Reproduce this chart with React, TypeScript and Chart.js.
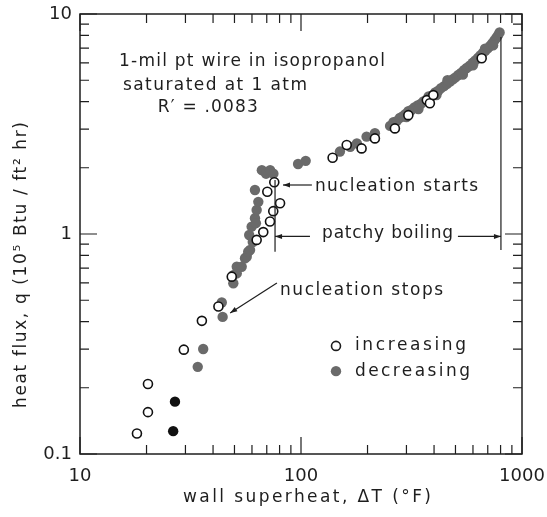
import React, { useEffect, useRef } from 'react';
import { Chart, registerables } from 'chart.js';

Chart.register(...registerables);

// ---- data (wall superheat dT in °F, heat flux q in 1e5 Btu/ft2 hr) ----
const increasingDT = [18.1, 20.3, 20.3, 29.5, 35.6, 42.3, 48.6, 63.0, 67.5, 72.4, 74.9, 80.4, 70.4, 75.7, 139, 161, 188, 216, 266, 306, 371, 383, 397, 657];
const increasingQ = [0.124, 0.155, 0.208, 0.298, 0.403, 0.468, 0.64, 0.94, 1.02, 1.14, 1.27, 1.38, 1.556, 1.72, 2.22, 2.54, 2.45, 2.72, 3.02, 3.47, 4.06, 3.93, 4.28, 6.29];

const decreasingDT = [
  34.1, 36.1, 43.8, 44.2, 49.4, 49.4, 51.2, 51.2, 53.9, 55.8, 56.8, 57.7, 58.8, 58.3, 59.8, 61.9, 63.0, 64.1, 61.9,
  66.5, 69.5, 72.5, 75.0, 97, 105, 150, 167, 179, 198, 216,
  253, 262, 271, 280, 288, 296, 306, 316, 326, 337, 348, 358, 370, 378, 392, 405, 418, 430, 444, 458, 472, 487,
  500, 515, 530, 546, 562, 580, 598, 615, 632, 648, 665, 683, 700, 716, 733, 750, 766, 780, 792,
  300, 340, 410, 460, 540, 600, 680, 740, 60.5, 62.5,
];
const decreasingQ = [
  0.249, 0.30, 0.488, 0.42, 0.597, 0.65, 0.662, 0.71, 0.71, 0.776, 0.788, 0.831, 0.846, 0.99, 1.08, 1.18, 1.285, 1.40, 1.585,
  1.95, 1.88, 1.95, 1.88, 2.08, 2.15, 2.37, 2.49, 2.58, 2.77, 2.87,
  3.10, 3.22, 3.26, 3.37, 3.42, 3.50, 3.62, 3.66, 3.76, 3.84, 3.90, 4.00, 4.08, 4.22, 4.25, 4.40, 4.48, 4.60, 4.70, 4.82, 4.93, 5.05,
  5.15, 5.28, 5.40, 5.55, 5.68, 5.82, 6.00, 6.15, 6.32, 6.48, 6.65, 6.82, 6.98, 7.15, 7.35, 7.58, 7.80, 8.02, 8.25,
  3.40, 3.70, 4.28, 5.00, 5.30, 5.85, 6.95, 7.20, 0.92, 1.12,
];

const darkDT = [26.4, 26.9];
const darkQ = [0.127, 0.173];

const xTickLabels = [10, 100, 1000];
const yTickLabels = [0.1, 1, 10];

const FONT = "'DejaVu Sans', sans-serif";
const INK = '#1e1e1e';
const GREY = '#6a6a6a';

const isLabel = (v: number, list: number[]) => list.find((t) => Math.abs(Math.log10(v) - Math.log10(t)) < 1e-6);

function spacedText(ctx: CanvasRenderingContext2D, text: string, x: number, y: number, size: number, width: number, align: 'left' | 'center' = 'left') {
  ctx.font = `${size}px ${FONT}`;
  (ctx as any).letterSpacing = '0px';
  const w0 = ctx.measureText(text).width;
  const n = Array.from(text).length;
  const ls = n > 1 ? (width - w0) / (n - 1) : 0;
  (ctx as any).letterSpacing = ls + 'px';
  ctx.textAlign = 'left';
  ctx.textBaseline = 'middle';
  ctx.fillText(text, align === 'center' ? x - width / 2 : x, y);
  (ctx as any).letterSpacing = '0px';
}

function arrow(ctx: CanvasRenderingContext2D, x1: number, y1: number, x2: number, y2: number, head = 7, half = 2.5) {
  ctx.beginPath();
  ctx.moveTo(x1, y1);
  ctx.lineTo(x2, y2);
  ctx.stroke();
  const a = Math.atan2(y2 - y1, x2 - x1);
  ctx.beginPath();
  ctx.moveTo(x2, y2);
  ctx.lineTo(x2 - head * Math.cos(a) + half * Math.sin(a), y2 - head * Math.sin(a) - half * Math.cos(a));
  ctx.lineTo(x2 - head * Math.cos(a) - half * Math.sin(a), y2 - head * Math.sin(a) + half * Math.cos(a));
  ctx.closePath();
  ctx.fill();
}

const decorPlugin = {
  id: 'decor',
  afterDraw(chart: any) {
    const ctx: CanvasRenderingContext2D = chart.ctx;
    const xs = chart.scales.x;
    const ys = chart.scales.y;
    const X = (v: number) => xs.getPixelForValue(v);
    const Y = (v: number) => ys.getPixelForValue(v);
    const { left, right, top, bottom } = chart.chartArea;
    ctx.save();
    ctx.strokeStyle = INK;
    ctx.fillStyle = INK;

    // frame
    ctx.lineWidth = 1.5;
    ctx.strokeRect(left, top, right - left, bottom - top);

    // inward ticks on all four sides
    ctx.lineWidth = 1.2;
    const tickVals = (min: number, max: number) => {
      const out: { v: number; major: boolean }[] = [];
      for (let d = min; d < max * 0.999; d *= 10) {
        for (let m = 1; m <= 9; m++) out.push({ v: m * d, major: m === 1 });
      }
      out.push({ v: max, major: true });
      return out;
    };
    ctx.beginPath();
    for (const t of tickVals(xs.min, xs.max)) {
      const p = X(t.v);
      const len = t.major ? 17 : 9;
      ctx.moveTo(p, bottom); ctx.lineTo(p, bottom - len);
      ctx.moveTo(p, top); ctx.lineTo(p, top + len);
    }
    for (const t of tickVals(ys.min, ys.max)) {
      const p = Y(t.v);
      const len = t.major ? 17 : 9;
      ctx.moveTo(left, p); ctx.lineTo(left + len, p);
      ctx.moveTo(right, p); ctx.lineTo(right - len, p);
    }
    ctx.stroke();

    // annotation text block
    spacedText(ctx, '1-mil pt wire in isopropanol', X(15.0), Y(6.05), 17, 266);
    spacedText(ctx, 'saturated at 1 atm', X(15.65), Y(4.75), 17, 184);
    spacedText(ctx, "R′ = .0083", X(22.5), Y(3.74), 17, 100);

    // nucleation starts
    ctx.lineWidth = 1.2;
    spacedText(ctx, 'nucleation starts', X(115.7), Y(1.65), 17, 163);
    arrow(ctx, X(112), Y(1.67), X(82.9), Y(1.67));

    // patchy boiling
    spacedText(ctx, 'patchy boiling', X(124.5), Y(1.0), 17, 131);
    ctx.beginPath();
    ctx.moveTo(X(76.3), Y(1.76)); ctx.lineTo(X(76.3), Y(0.83));
    ctx.moveTo(X(803), Y(7.86)); ctx.lineTo(X(803), Y(0.846));
    ctx.stroke();
    arrow(ctx, X(109.8), Y(0.975), X(76.3), Y(0.975));
    arrow(ctx, X(513), Y(0.975), X(803), Y(0.975));

    // nucleation stops
    spacedText(ctx, 'nucleation stops', X(80.4), Y(0.556), 17, 163);
    arrow(ctx, X(77.8), Y(0.599), X(47.8), Y(0.4375));

    // legend
    ctx.beginPath();
    ctx.arc(X(144), Y(0.31), 4.5, 0, Math.PI * 2);
    ctx.fillStyle = '#fff';
    ctx.fill();
    ctx.lineWidth = 1.6;
    ctx.stroke();
    ctx.beginPath();
    ctx.arc(X(144), Y(0.238), 5.2, 0, Math.PI * 2);
    ctx.fillStyle = GREY;
    ctx.fill();
    ctx.fillStyle = INK;
    spacedText(ctx, 'increasing', X(175.5), Y(0.31), 17, 111);
    spacedText(ctx, 'decreasing', X(175.5), Y(0.238), 17, 115);

    // axis titles
    spacedText(ctx, 'wall superheat, ΔT (°F)', (left + right) / 2 + 6, bottom + 44, 17, 248, 'center');
    ctx.save();
    ctx.translate(left - 58, (top + bottom) / 2 + 31);
    ctx.rotate(-Math.PI / 2);
    spacedText(ctx, 'heat flux, q (10⁵ Btu / ft² hr)', 0, 0, 17, 286, 'center');
    ctx.restore();

    ctx.restore();
  },
};

export default function App() {
  const ref = useRef<HTMLCanvasElement>(null);
  useEffect(() => {
    const toPts = (xs: number[], ys: number[]) => xs.map((x, i) => ({ x, y: ys[i] }));
    const chart = new Chart(ref.current as HTMLCanvasElement, {
      type: 'scatter',
      data: {
        datasets: [
          {
            label: 'increasing',
            data: toPts(increasingDT, increasingQ),
            pointRadius: 4.5,
            pointBackgroundColor: '#ffffff',
            pointBorderColor: '#111111',
            pointBorderWidth: 1.6,
            order: 0,
          },
          {
            label: 'decreasing',
            data: toPts(decreasingDT, decreasingQ),
            pointRadius: 5.2,
            pointBackgroundColor: GREY,
            pointBorderColor: GREY,
            pointBorderWidth: 0,
            order: 1,
          },
          {
            label: 'decreasing (dark)',
            data: toPts(darkDT, darkQ),
            pointRadius: 5.2,
            pointBackgroundColor: '#111111',
            pointBorderColor: '#111111',
            pointBorderWidth: 0,
            order: 1,
          },
        ],
      },
      options: {
        animation: false,
        responsive: false,
        events: [],
        layout: { padding: { top: 14, right: 25, left: 0, bottom: 0 } },
        plugins: { legend: { display: false }, tooltip: { enabled: false } },
        scales: {
          x: {
            type: 'logarithmic',
            min: 10,
            max: 1000,
            position: 'bottom',
            afterFit: (s: any) => { s.height = 63; s.paddingLeft = 0; s.paddingRight = 0; },
            grid: { display: false, drawTicks: false },
            border: { display: false },
            ticks: {
              autoSkip: false,
              maxRotation: 0,
              minRotation: 0,
              padding: 12,
              color: INK,
              font: { family: FONT, size: 18 },
              callback: (v: any) => { const t = isLabel(Number(v), xTickLabels); return t !== undefined ? String(t) : ''; },
            },
          },
          y: {
            type: 'logarithmic',
            min: 0.1,
            max: 10,
            position: 'left',
            afterFit: (s: any) => { s.width = 80; s.paddingTop = 0; s.paddingBottom = 0; },
            grid: { display: false, drawTicks: false },
            border: { display: false },
            ticks: {
              autoSkip: false,
              padding: 8,
              color: INK,
              font: { family: FONT, size: 18 },
              callback: (v: any) => { const t = isLabel(Number(v), yTickLabels); return t !== undefined ? String(t) : ''; },
            },
          },
        },
      } as any,
      plugins: [decorPlugin],
    });
    return () => chart.destroy();
  }, []);
  return (
    <div style={{ position: 'fixed', left: 0, top: 0, width: 547, height: 517, background: '#fff' }}>
      <canvas ref={ref} width={547} height={517} style={{ display: 'block' }} />
    </div>
  );
}
